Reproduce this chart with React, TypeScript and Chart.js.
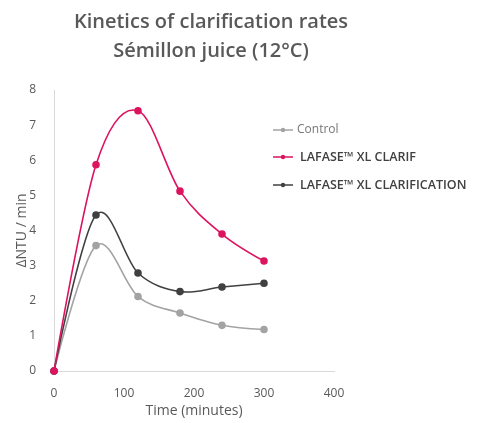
import { useEffect, useRef } from 'react';
import { Chart, registerables } from 'chart.js';

Chart.register(...registerables);

const TITLE_LINES = ['Kinetics of clarification rates', 'Sémillon juice (12°C)'];
const X_TITLE = 'Time (minutes)';
const Y_TITLE = 'ΔNTU / min';

const timePoints = [0, 60, 120, 180, 240, 300];
const controlValues = [0, 3.57, 2.12, 1.65, 1.3, 1.18];
const clarifValues = [0, 5.87, 7.41, 5.12, 3.9, 3.13];
const clarificationValues = [0, 4.44, 2.79, 2.26, 2.39, 2.5];

const seriesLabels = ['Control', 'LAFASE™ XL CLARIF', 'LAFASE™ XL CLARIFICATION'];
const seriesColors = ['#a3a3a3', '#dc145f', '#404040'];

const toPoints = (vals: number[]) => timePoints.map((x, i) => ({ x, y: vals[i] }));

const legendFonts = ['12px "Open Sans"', '600 12.5px "Open Sans"', '600 12.5px "Open Sans"'];
const legendTextColors = ['#767676', '#404040', '#404040'];

// Uniform Catmull-Rom style smoothing (like spreadsheet "smoothed line")
const smoothPlugin = {
  id: 'smooth',
  beforeDatasetsDraw(chart: any) {
    chart.data.datasets.forEach((_ds: any, i: number) => {
      const meta = chart.getDatasetMeta(i);
      const line = meta.dataset;
      if (!line) return;
      line.updateControlPoints(chart.chartArea, 'x');
      const pts = meta.data;
      const n = pts.length;
      for (let k = 0; k < n; k++) {
        const p = pts[k];
        const prev = pts[Math.max(0, k - 1)];
        const next = pts[Math.min(n - 1, k + 1)];
        const tx = (next.x - prev.x) / 6;
        const ty = (next.y - prev.y) / 6;
        if (k === 0 || k === n - 1) {
          p.cp1x = p.x; p.cp1y = p.y;
          p.cp2x = p.x; p.cp2y = p.y;
        } else {
          p.cp1x = p.x - tx; p.cp1y = p.y - ty;
          p.cp2x = p.x + tx; p.cp2y = p.y + ty;
        }
      }
    });
  },
};

const overlayPlugin = {
  id: 'overlay',
  afterDraw(chart: any) {
    const ctx = chart.ctx as CanvasRenderingContext2D;
    ctx.save();
    ctx.fillStyle = '#595959';
    ctx.font = '600 20px "Open Sans"';
    ctx.textAlign = 'center';
    ctx.textBaseline = 'middle';
    TITLE_LINES.forEach((t, i) => ctx.fillText(t, 211, 22 + i * 29));

    const rows = [130, 157, 185];
    chart.data.datasets.forEach((ds: any, i: number) => {
      const y = rows[i];
      const x0 = 273;
      const x1 = 293;
      ctx.strokeStyle = ds.borderColor;
      ctx.lineWidth = 1.5;
      ctx.beginPath();
      ctx.moveTo(x0, y);
      ctx.lineTo(x1, y);
      ctx.stroke();
      ctx.fillStyle = ds.borderColor;
      ctx.beginPath();
      ctx.arc((x0 + x1) / 2, y, 2.2, 0, Math.PI * 2);
      ctx.fill();
      ctx.font = legendFonts[i];
      ctx.fillStyle = legendTextColors[i];
      ctx.textAlign = 'left';
      ctx.textBaseline = 'middle';
      ctx.fillText(ds.label, i === 0 ? 297 : 300, y);
    });
    ctx.restore();
  },
};

export default function App() {
  const ref = useRef<HTMLCanvasElement>(null);
  useEffect(() => {
    if (!ref.current) return;
    const valueSets = [controlValues, clarifValues, clarificationValues];
    const orders = [2, 0, 1];
    const chart = new Chart(ref.current, {
      type: 'line',
      data: {
        datasets: valueSets.map((vals, i) => ({
          label: seriesLabels[i],
          data: toPoints(vals),
          borderColor: seriesColors[i],
          backgroundColor: seriesColors[i],
          pointBackgroundColor: seriesColors[i],
          pointBorderColor: seriesColors[i],
          pointRadius: 3,
          borderWidth: 1.6,
          tension: 0.4,
          fill: false,
          order: orders[i],
          clip: false as any,
        })),
      },
      options: {
        responsive: false,
        animation: false,
        layout: { padding: { left: 10, right: 146, top: 90, bottom: 0 } },
        plugins: {
          legend: { display: false },
          title: { display: false },
          tooltip: { enabled: false },
        },
        scales: {
          x: {
            type: 'linear',
            min: 0,
            max: 400,
            ticks: { stepSize: 100, color: '#595959', font: { family: 'Open Sans', size: 12 }, padding: 7 },
            grid: { display: false },
            border: { display: true, color: '#d9d9d9', width: 1 },
            title: { display: true, text: X_TITLE, color: '#595959', font: { family: 'Open Sans', size: 14 }, padding: { top: 12 } },
            afterFit: (s: any) => { s.height = 52; },
          },
          y: {
            min: 0,
            max: 8,
            ticks: { stepSize: 1, color: '#595959', font: { family: 'Open Sans', size: 12 }, padding: 10 },
            grid: { display: false },
            border: { display: true, color: '#d9d9d9', width: 1 },
            title: { display: true, text: Y_TITLE, color: '#595959', font: { family: 'Open Sans', size: 14 }, padding: { bottom: 6 } },
            afterFit: (s: any) => { s.width = 44; },
          },
        },
      },
      plugins: [smoothPlugin, overlayPlugin],
    });
    return () => chart.destroy();
  }, []);
  return (
    <div style={{ position: 'fixed', left: 0, top: 0, width: 480, height: 423, background: '#fff' }}>
      <canvas ref={ref} width={480} height={423} />
    </div>
  );
}
